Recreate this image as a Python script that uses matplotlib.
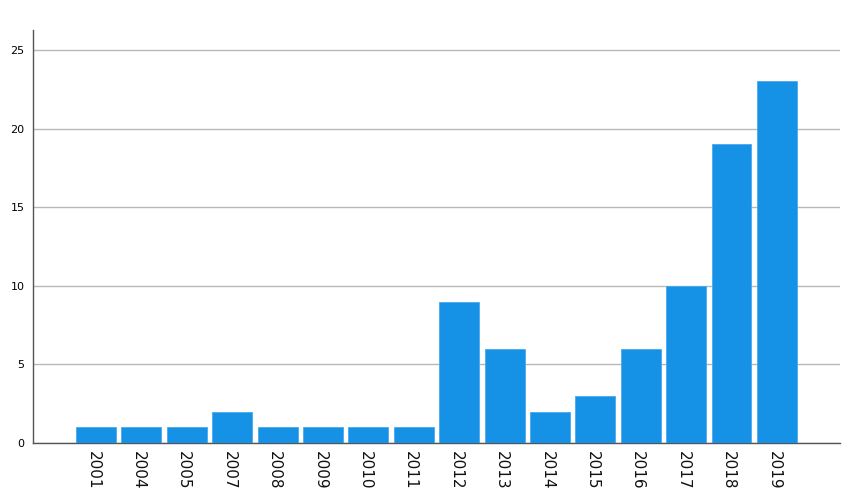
import matplotlib
matplotlib.use("Agg")
import matplotlib.pyplot as plt
import matplotlib.transforms as mtransforms

# data
years = ["2001", "2004", "2005", "2007", "2008", "2009", "2010", "2011",
         "2012", "2013", "2014", "2015", "2016", "2017", "2018", "2019"]
counts = [1, 1, 1, 2, 1, 1, 1, 1, 9, 6, 2, 3, 6, 10, 19, 23]

fig = plt.figure(figsize=(8.5, 5), dpi=100)
ax = fig.add_axes([0.0388, 0.114, 0.9494, 0.826])

pos = range(len(years))
ax.bar(pos, counts, width=0.88, color="#1591e6", edgecolor="#4aa8ec",
       linewidth=0.6, zorder=3)

ax.set_xlim(-1.39, len(years) - 1 + 1.39)
ax.set_ylim(0, 26.27)
ax.set_yticks([0, 5, 10, 15, 20, 25])
ax.set_xticks(list(pos))
ax.set_xticklabels(years, rotation=270, fontsize=11, color="#111111")
ax.tick_params(axis="y", labelsize=8, length=0, pad=6)
ax.tick_params(axis="x", length=0, pad=6)

# nudge the rotated year labels a little to the left
shift = mtransforms.ScaledTranslation(-3 / 100, 0, fig.dpi_scale_trans)
for lbl in ax.get_xticklabels():
    lbl.set_transform(lbl.get_transform() + shift)

ax.yaxis.grid(True, color="#b8b8b8", linewidth=1, zorder=0)
for s in ["top", "right"]:
    ax.spines[s].set_visible(False)
for s in ["left", "bottom"]:
    ax.spines[s].set_color("#555555")
    ax.spines[s].set_linewidth(1)

fig.savefig("out.png", dpi=100)
